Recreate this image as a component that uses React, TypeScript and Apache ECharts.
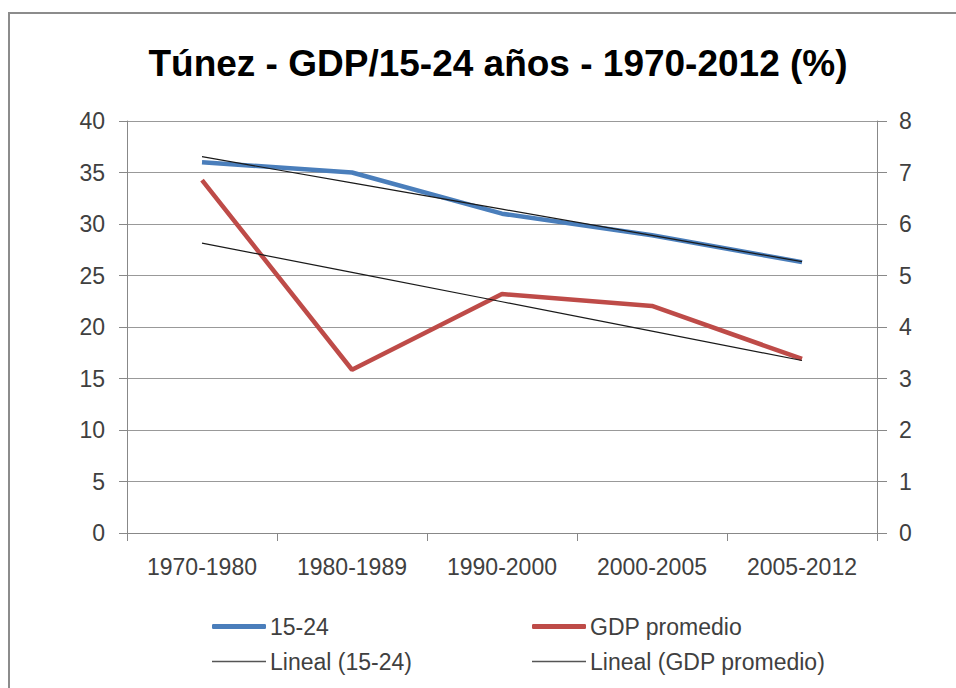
import React, { useEffect, useRef } from "react";
import * as echarts from "echarts";

const categories = ["1970-1980", "1980-1989", "1990-2000", "2000-2005", "2005-2012"];
const youth1524 = [36.0, 35.0, 31.0, 28.9, 26.3];
const gdpPromedio = [6.85, 3.17, 4.64, 4.41, 3.38];
const leftTicks = { min: 0, max: 40, interval: 5 };
const rightTicks = { min: 0, max: 8, interval: 1 };

// Excel-style linear trendline (least squares over category index)
function linearTrend(values: number[]): number[] {
  const n = values.length;
  const xs = values.map((_, i) => i);
  const mx = xs.reduce((a, b) => a + b, 0) / n;
  const my = values.reduce((a, b) => a + b, 0) / n;
  let num = 0;
  let den = 0;
  for (let i = 0; i < n; i++) {
    num += (xs[i] - mx) * (values[i] - my);
    den += (xs[i] - mx) * (xs[i] - mx);
  }
  const slope = num / den;
  return xs.map((x) => +(my + slope * (x - mx)).toFixed(4));
}

const FONT = "Liberation Sans";
const LABEL_COLOR = "#404040";
const BLUE = "#4a7ebb";
const RED = "#be4b48";
const TREND = "#1a1a1a";

export default function App() {
  const ref = useRef<HTMLDivElement>(null);
  useEffect(() => {
    if (!ref.current) return;
    const chart = echarts.init(ref.current, undefined, { renderer: "svg" });
    const legendBase = {
      orient: "horizontal" as const,
      itemWidth: 54,
      itemGap: 0,
      textStyle: { fontFamily: FONT, fontSize: 23, color: LABEL_COLOR, padding: [0, 0, 0, -1] },
      padding: 0,
    };
    chart.setOption({
      animation: false,
      backgroundColor: "#ffffff",
      textStyle: { fontFamily: FONT },
      title: {
        text: "Túnez - GDP/15-24 años - 1970-2012 (%)",
        left: 493,
        textAlign: "center",
        top: 40,
        textStyle: { fontFamily: FONT, fontSize: 37, fontWeight: "bold", color: "#000000" },
      },
      graphic: [
        {
          type: "rect",
          shape: { x: 9, y: 13, width: 1000, height: 1000 },
          style: { fill: "none", stroke: "#8c8c8c", lineWidth: 2 },
          silent: true,
        },
      ],
      grid: { left: 127, right: 79, top: 121, bottom: 155 },
      legend: [
        {
          ...legendBase,
          left: 212,
          top: 615,
          itemHeight: 5,
          data: [{ name: "15-24", icon: "roundRect", itemStyle: { color: BLUE } }],
        },
        {
          ...legendBase,
          left: 532,
          top: 615,
          itemHeight: 5,
          data: [{ name: "GDP promedio", icon: "roundRect", itemStyle: { color: RED } }],
        },
        {
          ...legendBase,
          left: 212,
          top: 650,
          itemHeight: 1.5,
          data: [{ name: "Lineal (15-24)", icon: "rect", itemStyle: { color: "#555555" } }],
        },
        {
          ...legendBase,
          left: 532,
          top: 650,
          itemHeight: 1.5,
          data: [{ name: "Lineal (GDP promedio)", icon: "rect", itemStyle: { color: "#555555" } }],
        },
      ],
      xAxis: {
        type: "category",
        data: categories,
        boundaryGap: true,
        axisLine: { show: true, lineStyle: { color: "#888888", width: 1 } },
        axisTick: { show: true, alignWithLabel: false, length: 8, lineStyle: { color: "#888888" } },
        axisLabel: { fontFamily: FONT, fontSize: 23, color: LABEL_COLOR, margin: 22 },
        splitLine: { show: false },
      },
      yAxis: [
        {
          type: "value",
          position: "left",
          min: leftTicks.min,
          max: leftTicks.max,
          interval: leftTicks.interval,
          axisLine: { show: true, lineStyle: { color: "#888888", width: 1 } },
          axisTick: { show: true, length: 8, lineStyle: { color: "#888888" } },
          axisLabel: { fontFamily: FONT, fontSize: 23, color: LABEL_COLOR, margin: 22 },
          splitLine: { show: true, lineStyle: { color: "#999999", width: 1 } },
        },
        {
          type: "value",
          position: "right",
          min: rightTicks.min,
          max: rightTicks.max,
          interval: rightTicks.interval,
          axisLine: { show: true, lineStyle: { color: "#888888", width: 1 } },
          axisTick: { show: true, length: 10, lineStyle: { color: "#888888" } },
          axisLabel: { fontFamily: FONT, fontSize: 23, color: LABEL_COLOR, margin: 22 },
          splitLine: { show: false },
        },
      ],
      series: [
        {
          name: "15-24",
          type: "line",
          yAxisIndex: 0,
          data: youth1524,
          symbol: "none",
          color: BLUE,
          lineStyle: { color: BLUE, width: 4.5 },
          z: 2,
        },
        {
          name: "GDP promedio",
          type: "line",
          yAxisIndex: 1,
          data: gdpPromedio,
          symbol: "none",
          color: RED,
          lineStyle: { color: RED, width: 4.5 },
          z: 2,
        },
        {
          name: "Lineal (15-24)",
          type: "line",
          yAxisIndex: 0,
          data: linearTrend(youth1524),
          symbol: "none",
          color: TREND,
          lineStyle: { color: TREND, width: 1.2 },
          z: 3,
        },
        {
          name: "Lineal (GDP promedio)",
          type: "line",
          yAxisIndex: 1,
          data: linearTrend(gdpPromedio),
          symbol: "none",
          color: TREND,
          lineStyle: { color: TREND, width: 1.2 },
          z: 3,
        },
      ],
    });
    return () => chart.dispose();
  }, []);
  return (
    <div
      ref={ref}
      style={{ position: "fixed", left: 0, top: 0, width: 956, height: 688, background: "#fff" }}
    />
  );
}
